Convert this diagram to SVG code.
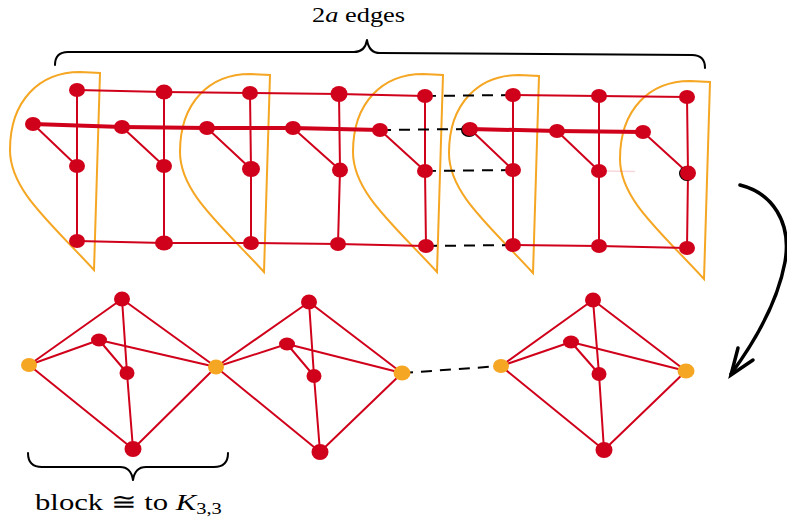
<svg xmlns="http://www.w3.org/2000/svg" width="787" height="520" viewBox="0 0 787 520">
<style>
.bg{fill:#ffffff}
.half{fill:none;stroke:#F5A623;stroke-width:2}
.e{fill:none;stroke:#D0021B;stroke-width:2;stroke-linecap:round;stroke-linejoin:round}
.thick{fill:none;stroke:#D0021B;stroke-width:4;stroke-linecap:round;stroke-linejoin:round}
.d{fill:none;stroke:#000;stroke-width:2;stroke-dasharray:11 8}
.r{fill:#D0021B}
.o{fill:#F5A623}
.blk{fill:none;stroke:#000;stroke-width:2;stroke-linecap:round;stroke-linejoin:round}
.arr{fill:none;stroke:#000;stroke-width:3.5;stroke-linecap:round;stroke-linejoin:miter}
.t{font-family:"Liberation Serif","DejaVu Serif",serif;fill:#000}
</style>
<defs>
<path id="hd" d="M100,73 L94,270 C50,222 10,190 10,150 C10,100 40,72 80,72 Z"/>
</defs>
<rect class="bg" x="0" y="0" width="787" height="520"/>

<g id="label-top">
<text class="t" font-size="20" transform="translate(312,22) scale(1.32,1)">2<tspan font-style="italic">a</tspan> edges</text>
</g>
<g id="brace-top">
<path class="blk" d="M55,65 Q55,52 68,52 L354,52 Q365,52 367,40 Q369,53 380,53 L692,55 Q705,55 705,68"/>
</g>

<g id="groups">
<use href="#hd" class="half"/>
<use href="#hd" class="half" transform="translate(170,2)"/>
<use href="#hd" class="half" transform="translate(343,2)"/>
<use href="#hd" class="half" transform="translate(439,3)"/>
<use href="#hd" class="half" transform="translate(610,9)"/>
</g>

<g id="connectors">
<polyline class="e" points="77,90 164,92 250,93 339,94 425,96"/>
<polyline class="e" points="513,95 599,96 687,97"/>
<polyline class="thick" points="33,124 122,127 207,128 293,128 380,130"/>
<polyline class="thick" points="470,129 557,131 643,132"/>
<polyline class="e" points="77,241 164,243 251,243 338,244 426,246"/>
<polyline class="e" points="513,245 599,246 687,248"/>
<polyline class="e" points="77,90 77,166 77,241"/>
<polyline class="e" points="164,92 164,166 164,243"/>
<polyline class="e" points="250,93 251,169 251,243"/>
<polyline class="e" points="339,94 340,170 338,244"/>
<polyline class="e" points="425,96 425,171 426,246"/>
<polyline class="e" points="513,95 513,170 513,245"/>
<polyline class="e" points="599,96 599,171 599,246"/>
<polyline class="e" points="687,97 688,173 687,248"/>
<line class="e" x1="33" y1="124" x2="77" y2="166"/>
<line class="e" x1="122" y1="127" x2="164" y2="166"/>
<line class="e" x1="207" y1="128" x2="251" y2="169"/>
<line class="e" x1="293" y1="128" x2="340" y2="170"/>
<line class="e" x1="380" y1="130" x2="425" y2="171"/>
<line class="e" x1="470" y1="129" x2="513" y2="170"/>
<line class="e" x1="557" y1="131" x2="599" y2="171"/>
<line class="e" x1="643" y1="132" x2="688" y2="173"/>
<line x1="605" y1="171" x2="635" y2="171.5" stroke="#D0021B" stroke-width="1.5" opacity="0.15"/>
<line class="d" x1="425" y1="96" x2="513" y2="95"/>
<line class="d" x1="380" y1="130" x2="470" y2="129"/>
<line class="d" x1="425" y1="171" x2="513" y2="170"/>
<line class="d" x1="426" y1="246" x2="513" y2="245"/>
<path class="e" d="M29,365 L122,299 L216,367 M29,365 L99,340 L216,367 M29,365 L133,449 L216,367 M122,299 L127,373 L133,449 M99,340 L127,373"/>
<path class="e" d="M216,367 L309,302 L402,373 M216,367 L287,344 L402,373 M216,367 L320,452 L402,373 M309,302 L314,376 L320,452 M287,344 L314,376"/>
<path class="e" d="M501,366 L593,300 L686,371 M501,366 L571,342 L686,371 M501,366 L604,450 L686,371 M593,300 L599,374 L604,450 M571,342 L599,374"/>
<line class="d" x1="402" y1="373" x2="501" y2="366"/>
<path class="arr" d="M740,185 C772,193 792,222 785,262 C778,300 756,340 731,374"/>
<path class="arr" d="M738,348 L731,375 L753,360"/>
</g>

<g id="top-nodes">
<g id="n1t"><ellipse class="r" cx="77" cy="90" rx="8" ry="7"/></g>
<g id="n1l"><ellipse class="r" cx="33" cy="124" rx="8" ry="7"/></g>
<g id="n1m"><ellipse class="r" cx="77" cy="166" rx="8" ry="7"/></g>
<g id="n1b"><ellipse class="r" cx="77" cy="241" rx="8" ry="7"/></g>
<g id="n2t"><ellipse class="r" cx="164" cy="92" rx="8.5" ry="7.5"/></g>
<g id="n2l"><ellipse class="r" cx="122" cy="127" rx="8" ry="7"/></g>
<g id="n2m"><ellipse class="r" cx="164" cy="166" rx="8" ry="7"/></g>
<g id="n2b"><ellipse class="r" cx="164" cy="243" rx="9" ry="7.5"/></g>
<g id="n3t"><ellipse class="r" cx="250" cy="93" rx="8" ry="7"/></g>
<g id="n3l"><ellipse class="r" cx="207" cy="128" rx="8" ry="7"/></g>
<g id="n3m"><ellipse class="r" cx="251" cy="169" rx="9" ry="8"/></g>
<g id="n3b"><ellipse class="r" cx="251" cy="243" rx="8" ry="7"/></g>
<g id="n4t"><ellipse class="r" cx="339" cy="94" rx="8.5" ry="8"/></g>
<g id="n4l"><ellipse class="r" cx="293" cy="128" rx="8" ry="7"/></g>
<g id="n4m"><ellipse class="r" cx="340" cy="170" rx="8" ry="7.5"/></g>
<g id="n4b"><ellipse class="r" cx="338" cy="244" rx="8" ry="7"/></g>
<g id="n5t"><ellipse class="r" cx="425" cy="96" rx="8" ry="7"/></g>
<g id="n5l"><ellipse class="r" cx="380" cy="130" rx="8" ry="7"/></g>
<g id="n5m"><ellipse class="r" cx="425" cy="171" rx="8" ry="7"/></g>
<g id="n5b"><ellipse class="r" cx="426" cy="246" rx="8" ry="7"/></g>
<g id="n6t"><ellipse class="r" cx="513" cy="95" rx="8" ry="7"/></g>
<g id="n6l"><ellipse fill="#000" cx="469" cy="130" rx="8" ry="7"/><ellipse class="r" cx="470" cy="129" rx="8" ry="7"/></g>
<g id="n6m"><ellipse class="r" cx="513" cy="170" rx="8" ry="7"/></g>
<g id="n6b"><ellipse class="r" cx="513" cy="245" rx="8" ry="7"/></g>
<g id="n7t"><ellipse class="r" cx="599" cy="96" rx="8" ry="7"/></g>
<g id="n7l"><ellipse class="r" cx="557" cy="131" rx="8" ry="7"/></g>
<g id="n7m"><ellipse class="r" cx="599" cy="171" rx="8" ry="7"/></g>
<g id="n7b"><ellipse class="r" cx="599" cy="246" rx="8" ry="7"/></g>
<g id="n8t"><ellipse class="r" cx="687" cy="97" rx="8" ry="7"/></g>
<g id="n8l"><ellipse class="r" cx="643" cy="132" rx="8" ry="7"/></g>
<g id="n8m"><ellipse fill="#000" cx="687" cy="173.5" rx="8" ry="7.5"/><ellipse class="r" cx="688" cy="173" rx="8" ry="7.5"/></g>
<g id="n8b"><ellipse class="r" cx="687" cy="248" rx="8" ry="7"/></g>
</g>

<g id="bottom-nodes">
<g id="b1l"><ellipse class="o" cx="29" cy="365" rx="8" ry="7"/></g>
<g id="b1t"><ellipse class="r" cx="122" cy="299" rx="8" ry="7.5"/></g>
<g id="b1u"><ellipse class="r" cx="99" cy="340" rx="8" ry="6.5"/></g>
<g id="b1c"><ellipse class="r" cx="127" cy="373" rx="7.5" ry="7"/></g>
<g id="b1b"><ellipse class="r" cx="133" cy="449" rx="8.5" ry="8"/></g>
<g id="b12"><ellipse class="o" cx="216" cy="367" rx="8" ry="7.5"/></g>
<g id="b2t"><ellipse class="r" cx="309" cy="302" rx="8" ry="7.5"/></g>
<g id="b2u"><ellipse class="r" cx="287" cy="344" rx="8" ry="6.5"/></g>
<g id="b2c"><ellipse class="r" cx="314" cy="376" rx="7.5" ry="7"/></g>
<g id="b2b"><ellipse class="r" cx="320" cy="452" rx="8.5" ry="8"/></g>
<g id="b2r"><ellipse class="o" cx="402" cy="373" rx="8.5" ry="7.5"/></g>
<g id="b3l"><ellipse class="o" cx="501" cy="366" rx="8" ry="7"/></g>
<g id="b3t"><ellipse class="r" cx="593" cy="300" rx="8" ry="7.5"/></g>
<g id="b3u"><ellipse class="r" cx="571" cy="342" rx="8" ry="6.5"/></g>
<g id="b3c"><ellipse class="r" cx="599" cy="374" rx="7.5" ry="7"/></g>
<g id="b3b"><ellipse class="r" cx="604" cy="450" rx="8.5" ry="8"/></g>
<g id="b3r"><ellipse class="o" cx="686" cy="371" rx="8.5" ry="7.5"/></g>
</g>

<g id="brace-bottom">
<path class="blk" d="M28,453 Q28,467 42,467 L120,467 Q131,467 133,480 Q135,467 146,467 L214,467 Q228,467 228,453"/>
</g>
<g id="label-bottom">
<text class="t" font-size="24" transform="translate(35,510) scale(1.28,1)">block ≅ to <tspan font-style="italic">K</tspan><tspan font-size="16" dy="4">3,3</tspan></text>
</g>
</svg>
